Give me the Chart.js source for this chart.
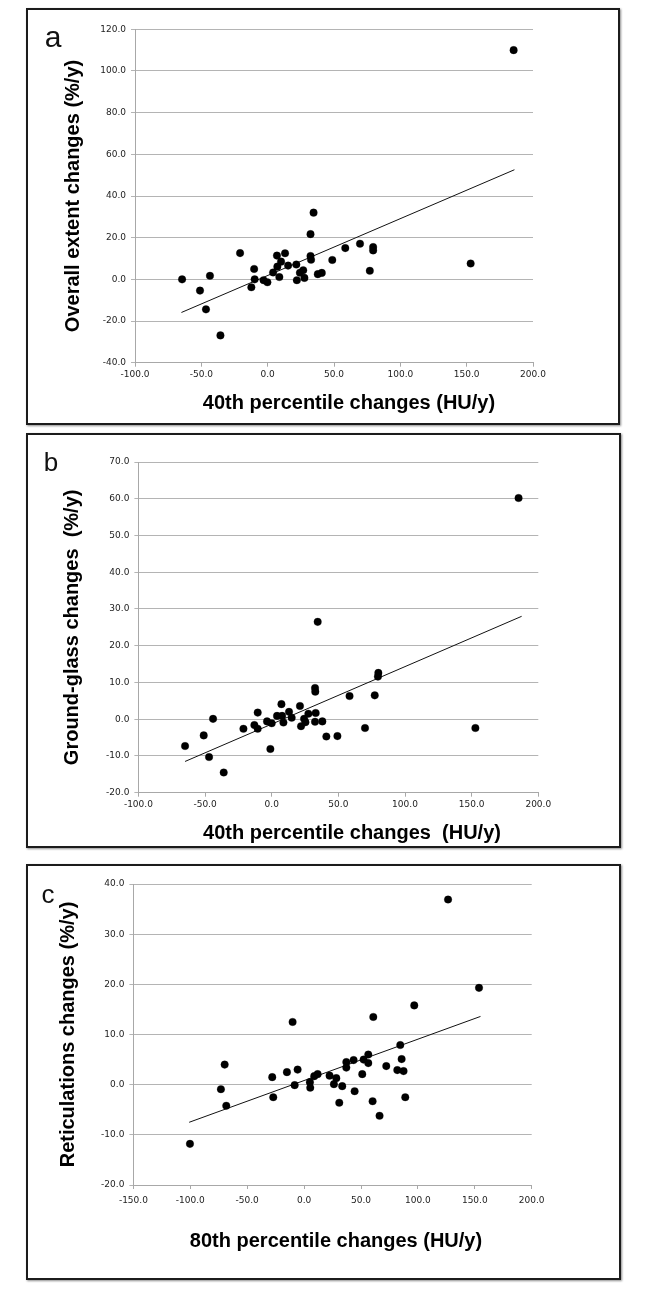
<!DOCTYPE html>
<html>
<head>
<meta charset="utf-8">
<script src="https://cdn.jsdelivr.net/npm/chart.js@4.4.1/dist/chart.umd.min.js"></script>
<style>
  body { margin: 0; width: 647px; height: 1303px; background: #fff; position: relative; overflow: hidden; font-family: "Liberation Sans", Arial, sans-serif; }
  .panel { position: absolute; border: 2px solid #1c1c1c; box-sizing: border-box; box-shadow: 1px 1px 2px rgba(0,0,0,0.45); background: #fff; }
  .panel canvas { position: absolute; left: 0; top: 0; }
  .letter { position: absolute; width: 40px; text-align: center; line-height: 1; color: #111; }
  .xtitle { position: absolute; width: 400px; text-align: center; font-weight: bold; font-size: 20px; line-height: 24px; white-space: pre; color: #000; }
</style>
</head>
<body>
<div class="panel" style="left:26px;top:8px;width:594px;height:417px"><canvas id="chartA" width="590" height="413"></canvas></div>
<div class="panel" style="left:26px;top:433px;width:595px;height:415px"><canvas id="chartB" width="591" height="411"></canvas></div>
<div class="panel" style="left:26px;top:864px;width:595px;height:416px"><canvas id="chartC" width="591" height="412"></canvas></div>

<div class="letter" style="left:33px;top:22px;font-size:30px">a</div>
<div class="letter" style="left:31px;top:449px;font-size:26px">b</div>
<div class="letter" style="left:28px;top:881px;font-size:26px">c</div>

<div class="xtitle" id="xtA" style="left:149px;top:390px"></div>
<div class="xtitle" id="xtB" style="left:152px;top:820px"></div>
<div class="xtitle" id="xtC" style="left:136px;top:1228px"></div>

<script>
// panel a: overall extent vs 40th percentile
const aX = [-64.5, -51, -46.5, -43.5, -35.6, -20.8, -12.3, -10.2, -9.8, -3.1, -0.2, 4.1, 7.0, 7.3, 8.8, 10.1, 13.1, 15.4, 21.6, 22.0, 24.3, 26.8, 27.7, 32.3, 32.3, 32.7, 34.6, 37.8, 40.8, 48.7, 58.5, 69.6, 77.0, 79.5, 79.5, 153, 185.4];
const aY = [0.0, -5.4, -14.4, 1.7, -26.9, 12.6, -3.8, 5.0, 0.0, -0.4, -1.4, 3.3, 11.4, 6.1, 1.1, 8.5, 12.5, 6.6, 7.1, -0.4, 3.2, 4.4, 0.7, 21.7, 11.2, 9.4, 32.0, 2.5, 3.1, 9.3, 15.0, 17.1, 4.1, 15.5, 13.9, 7.6, 110];
const aTrendX = [-65, 186];
const aTrendY = [-15.9, 52.6];
const aXTicks = [-100, -50, 0, 50, 100, 150, 200];
const aYTicks = [-40, -20, 0, 20, 40, 60, 80, 100, 120];
const aXTitle = '40th percentile changes (HU/y)';
const aYTitle = 'Overall extent changes (%/y)';

// panel b: ground-glass vs 40th percentile
const bX = [-65, -51, -47, -44, -36, -21.2, -13, -10.5, -10.5, -3.5, -1, 0, 4, 7.3, 7.8, 8.8, 13, 15, 21.2, 22, 24.3, 25.3, 27.5, 32.5, 32.7, 33, 32.5, 34.5, 38, 41, 49.3, 58.4, 70, 77.3, 80, 79.7, 152.8, 185.2];
const bY = [-7.3, -4.4, -10.3, 0.1, -14.5, -2.6, -1.6, 1.8, -2.6, -0.6, -8.1, -1.1, 0.9, 4.1, 0.9, -0.9, 2.0, 0.4, 3.6, -1.9, 0.1, -0.8, 1.5, 8.5, 7.5, 1.7, -0.7, 26.5, -0.6, -4.7, -4.6, 6.3, -2.4, 6.5, 12.6, 11.6, -2.4, 60.2];
const bTrendX = [-65, 187.5];
const bTrendY = [-11.5, 28.0];
const bXTicks = [-100, -50, 0, 50, 100, 150, 200];
const bYTicks = [-20, -10, 0, 10, 20, 30, 40, 50, 60, 70];
const bXTitle = '40th percentile changes  (HU/y)';
const bYTitle = 'Ground-glass changes  (%/y)';

// panel c: reticulations vs 80th percentile
const cX = [-100.3, -73.1, -69.8, -68.4, -28, -27.1, -15.1, -10.1, -8.3, -5.7, 5.1, 5.4, 8.9, 11.9, 22.4, 26.2, 28.3, 30.9, 33.5, 37.1, 37.1, 43.5, 44.4, 51.1, 52.3, 56.4, 56.4, 60.2, 60.8, 66.3, 72.2, 81.9, 84.5, 85.7, 87.4, 88.9, 96.8, 126.5, 153.7];
const cY = [-11.8, -0.9, 4.0, -4.2, 1.5, -2.5, 2.5, 12.5, -0.1, 3.0, 0.5, -0.6, 1.7, 2.1, 1.8, 0.1, 1.3, -3.6, -0.3, 4.5, 3.4, 4.9, -1.3, 2.1, 5.0, 6.0, 4.3, -3.3, 13.5, -6.2, 3.7, 2.9, 7.9, 5.1, 2.7, -2.5, 15.8, 36.9, 19.3];
const cTrendX = [-101, 155];
const cTrendY = [-7.5, 13.6];
const cXTicks = [-150, -100, -50, 0, 50, 100, 150, 200];
const cYTicks = [-20, -10, 0, 10, 20, 30, 40];
const cXTitle = '80th percentile changes (HU/y)';
const cYTitle = 'Reticulations changes (%/y)';

const tickFont = { family: 'DejaVu Sans', size: 9 };

function makeChart(id, xs, ys, tx, ty, xTicks, yTicks, yTitle, box) {
    const points = xs.map((x, i) => ({ x: x, y: ys[i] }));
    const trend = tx.map((x, i) => ({ x: x, y: ty[i] }));
    new Chart(document.getElementById(id), {
        type: 'scatter',
        data: {
            datasets: [
                { data: points, backgroundColor: '#000', borderColor: 'rgba(0,0,0,0.35)', borderWidth: 0.8, pointRadius: 3.8 },
                { data: trend, showLine: true, borderColor: '#111', borderWidth: 1, pointRadius: 0 }
            ]
        },
        options: {
            responsive: false,
            animation: false,
            events: [],
            layout: { padding: { left: 0, top: box.top, right: box.right, bottom: 0 } },
            plugins: { legend: { display: false }, tooltip: { enabled: false } },
            scales: {
                x: {
                    type: 'linear',
                    min: xTicks[0],
                    max: xTicks[xTicks.length - 1],
                    afterFit: s => { s.height = box.xh; },
                    ticks: {
                        stepSize: xTicks[1] - xTicks[0],
                        padding: box.xpad,
                        autoSkip: false,
                        maxRotation: 0,
                        font: tickFont,
                        color: '#222',
                        callback: v => v.toFixed(1)
                    },
                    grid: { drawOnChartArea: false, tickLength: 4, color: '#a8a8a8' },
                    border: { color: '#a8a8a8' }
                },
                y: {
                    type: 'linear',
                    min: yTicks[0],
                    max: yTicks[yTicks.length - 1],
                    afterFit: s => { s.width = box.yw; },
                    ticks: {
                        stepSize: yTicks[1] - yTicks[0],
                        padding: 5,
                        font: tickFont,
                        color: '#222',
                        callback: v => v.toFixed(1)
                    },
                    grid: { color: '#b4b4b4', tickLength: 4 },
                    border: { color: '#a8a8a8' },
                    title: {
                        display: true,
                        text: yTitle,
                        color: '#000',
                        font: { family: 'Liberation Sans', size: 20, weight: 'bold' },
                        padding: { top: box.tpad, bottom: 0 }
                    }
                }
            }
        }
    });
}

makeChart('chartA', aX, aY, aTrendX, aTrendY, aXTicks, aYTicks, aYTitle,
    { top: 19.3, right: 85, xh: 60.3, yw: 107, tpad: 33, xpad: 3 });
makeChart('chartB', bX, bY, bTrendX, bTrendY, bXTicks, bYTicks, bYTitle,
    { top: 27, right: 80.7, xh: 53.3, yw: 110.4, tpad: 32.5, xpad: 3 });
makeChart('chartC', cX, cY, cTrendX, cTrendY, cXTicks, cYTicks, cYTitle,
    { top: 18, right: 87.3, xh: 93, yw: 105.4, tpad: 28.4, xpad: 6 });

document.getElementById('xtA').textContent = aXTitle;
document.getElementById('xtB').textContent = bXTitle;
document.getElementById('xtC').textContent = cXTitle;
</script>
</body>
</html>
